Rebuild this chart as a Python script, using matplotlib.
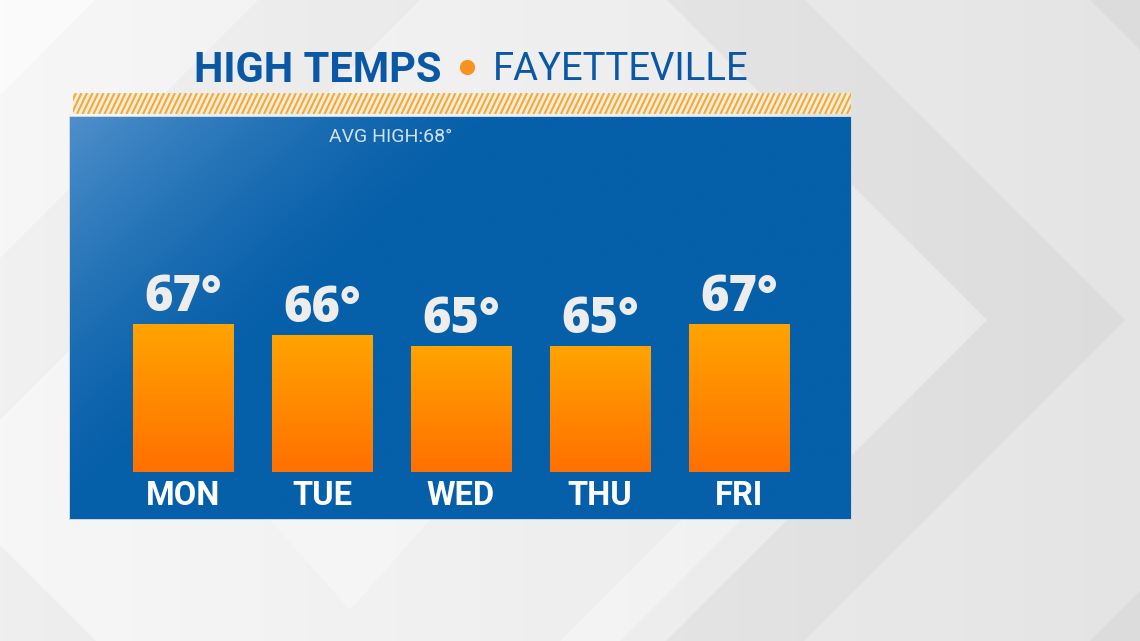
import numpy as np
import matplotlib
matplotlib.use("Agg")
import matplotlib.pyplot as plt
from matplotlib.patches import Polygon, Rectangle
from matplotlib.collections import LineCollection
from matplotlib.colors import LinearSegmentedColormap

# data
days = ["MON", "TUE", "WED", "THU", "FRI"]
highs = [67, 66, 65, 65, 67]
avg_high = 68
title_left = "HIGH TEMPS"
title_right = "FAYETTEVILLE"

W, H = 1140, 641
fig = plt.figure(figsize=(W / 100, H / 100), dpi=100)

sans = ["Roboto", "DejaVu Sans"]
digits = ["Open Sans", "DejaVu Sans"]

# background: soft grey with 45 degree chevron bands (pixel coords)
bg = fig.add_axes([0, 0, 1, 1])
bg.set_xlim(0, W)
bg.set_ylim(H, 0)
bg.axis("off")
base_cmap = LinearSegmentedColormap.from_list("bgc", ["#f3f3f3", "#e6e6e6", "#dcdcdc"])
bg.imshow(np.linspace(0, 1, 256).reshape(1, -1), cmap=base_cmap, extent=(0, W, H, 0),
          aspect="auto", zorder=0)
shapes = [
    ([(987, 320), (667, 0), (0, 0), (0, 641), (666, 641)], "white", 0.35),
    ([(1125, 320), (805, 0), (1090, 0), (1410, 320), (1090, 641), (804, 641)], "white", 0.25),
    ([(0, 0), (95, 0), (0, 95)], "white", 0.5),
    ([(0, 258), (258, 0), (420, 0), (0, 420)], "black", 0.025),
    ([(270, 520), (350, 610), (430, 520)], "white", 0.3),
    ([(0, 545), (96, 641), (0, 641)], "black", 0.03),
    ([(560, 641), (700, 501), (760, 501), (620, 641)], "white", 0.3),
]
for pts, c, a in shapes:
    bg.add_patch(Polygon(pts, closed=True, facecolor=c, alpha=a, lw=0, zorder=1))

# striped band above the panel
band = Rectangle((73, 93), 778, 21, facecolor="#f1ede6", lw=0, zorder=2)
bg.add_patch(band)
sx = np.arange(66, 860, 5.5)
stripes = LineCollection([[(x, 114), (x + 10, 93)] for x in sx], colors="#f8ab2a",
                         linewidths=1.5, zorder=2.5)
bg.add_collection(stripes)
stripes.set_clip_path(band)
# thin light frame round the panel
bg.add_patch(Rectangle((69, 116), 783, 404, facecolor="#c9d6e3", lw=0, zorder=2))

# title
bg.text(441, 70, title_left, ha="right", va="center", fontsize=30, fontweight="bold",
        color="#0a58a5", family=sans, zorder=3)
bg.scatter([467], [67], s=120, color="#f7931e", lw=0, zorder=3)
bg.text(493, 70, title_right, ha="left", va="center", fontsize=27.5,
        color="#0a58a5", family=sans, zorder=3)

# blue panel
x0, x1, y0, y1 = 70, 851, 117, 519
ax = fig.add_axes([x0 / W, 1 - y1 / H, (x1 - x0) / W, (y1 - y0) / H])
spacing = 139.0
base = 53.5
px_per_deg = 11.0
xl = ((x0 - 183) / spacing, (x1 - 183) / spacing)
yl = (base - (y1 - 472) / px_per_deg, base + (472 - y0) / px_per_deg)
ax.set_xlim(*xl)
ax.set_ylim(*yl)
ax.axis("off")

gx, gy = np.meshgrid(np.linspace(0, 1, 300), np.linspace(0, 1, 300))
t = np.clip(1 - (gx * 1.5 + gy * 0.85) / 0.85, 0, 1) ** 1.4
panel_cmap = LinearSegmentedColormap.from_list("panel", ["#065fa9", "#4e8fca"])
ax.imshow(t, cmap=panel_cmap, extent=(*xl, *yl), aspect="auto", origin="upper",
          zorder=0, vmin=0, vmax=1)

bar_cmap = LinearSegmentedColormap.from_list("bar", ["#ff7000", "#ffa400"])
grad = np.linspace(0, 1, 100).reshape(-1, 1)
xs = np.arange(len(days))
bars = ax.bar(xs, [v - base for v in highs], bottom=base, width=0.72,
              color="#ff8a00", zorder=2)
for b, v, i in zip(bars, highs, xs):
    im = ax.imshow(grad, cmap=bar_cmap, origin="lower", aspect="auto",
                   extent=(i - 0.36, i + 0.36, base, v), zorder=3)
    im.set_clip_path(b)
    ax.text(i, v + 0.05, f"{v}°", ha="center", va="bottom", fontsize=35,
            fontweight=800, color="#ededed", family=digits, zorder=4)

for i, d in zip(xs, days):
    ax.text(i, base - 2.2, d, ha="center", va="center", fontsize=23.5,
            fontweight="bold", color="white", family=sans, zorder=4)

ax.text((391 - 183) / spacing, base + (472 - 137) / px_per_deg, f"AVG HIGH:{avg_high}°",
        ha="center", va="center", fontsize=14, color="#d3e0ec",
        family=sans, zorder=4)

fig.savefig("out.png", dpi=100)
